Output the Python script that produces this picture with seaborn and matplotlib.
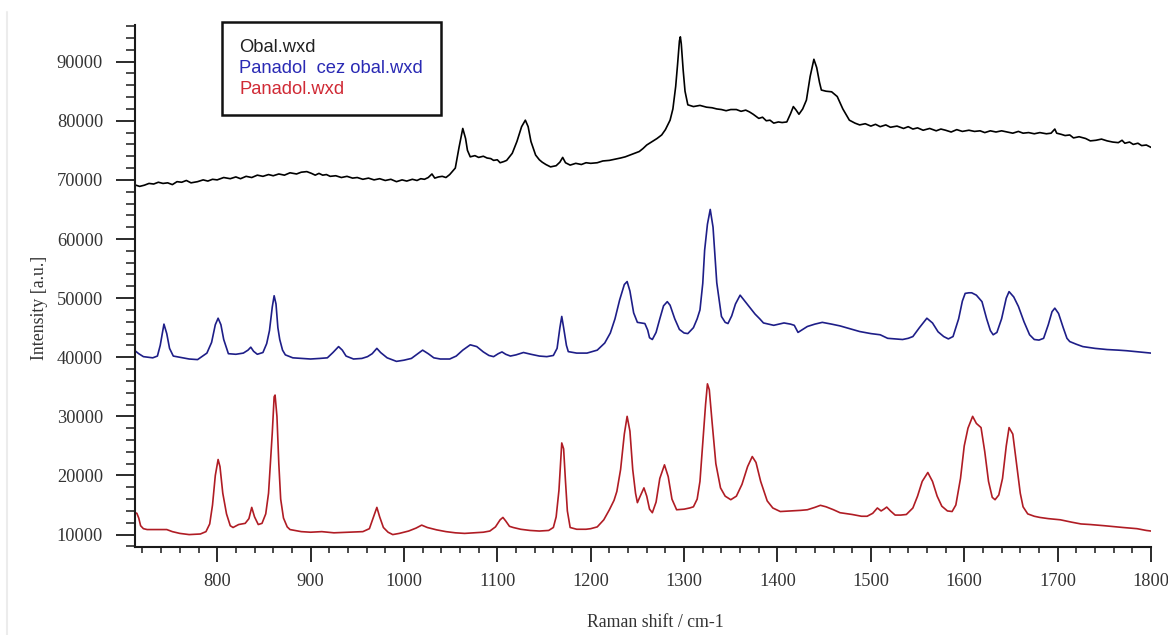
import matplotlib
matplotlib.use("Agg")
import matplotlib.pyplot as plt
import numpy as np
import pandas as pd
import seaborn as sns
from matplotlib.ticker import MultipleLocator
from matplotlib.lines import Line2D

# ---------------- data ----------------
series_names = ["Obal.wxd", "Panadol  cez obal.wxd", "Panadol.wxd"]

obal_shift = [712, 717, 722, 727, 732, 737, 742, 747, 752, 757, 762, 767, 772, 779, 785, 790, 795, 800,
              807, 814, 820, 825, 831, 837, 843, 849, 855, 860, 866, 872, 878, 885, 890, 896,
              901, 905, 909, 913, 917, 921, 927, 933, 939, 945, 950, 956, 962, 968, 974, 980, 986, 992,
              998, 1003, 1009, 1014, 1018, 1022, 1026, 1030, 1033, 1037, 1041, 1045, 1049, 1055,
              1059, 1063, 1066, 1068, 1071, 1076, 1080, 1085, 1089, 1093, 1096, 1100, 1103, 1107, 1110,
              1116, 1121, 1126, 1130, 1133,
              1136, 1141, 1145, 1148, 1152, 1157, 1163, 1167, 1170, 1173, 1178, 1184, 1190, 1195, 1200,
              1207, 1213, 1220, 1226, 1232, 1237, 1242,
              1247, 1252, 1256, 1260, 1266, 1271, 1276, 1280, 1285, 1288, 1291, 1293, 1295, 1296, 1297,
              1299, 1301, 1304, 1310, 1317,
              1324, 1330, 1335, 1340, 1345, 1350, 1356, 1361, 1366, 1370, 1374, 1380, 1384, 1388, 1392,
              1396, 1401, 1405, 1410, 1414, 1417, 1420, 1423,
              1427, 1431, 1435, 1439, 1442, 1445, 1447, 1452, 1458, 1464, 1470, 1477, 1483, 1488, 1494,
              1500, 1505, 1510, 1516, 1521, 1528, 1535, 1540, 1545, 1550, 1556, 1563, 1570, 1575, 1580,
              1586, 1592, 1598, 1605, 1611, 1617, 1622, 1628, 1634, 1640, 1646, 1652, 1658, 1663, 1669,
              1675, 1681, 1688, 1693, 1697, 1699, 1704, 1708, 1713, 1717, 1723, 1730, 1735, 1741, 1747,
              1753, 1759, 1765, 1769, 1772, 1777, 1781, 1786, 1790, 1795, 1800]
obal_intensity = [69150, 68900, 69100, 69400, 69300, 69600, 69400, 69500, 69200, 69700, 69600, 69900,
                  69500, 69700, 70000, 69800, 70100, 70000,
                  70400, 70200, 70500, 70200, 70600, 70400, 70800, 70600, 70900, 70700, 71000, 70800,
                  71200, 71000, 71300, 71400,
                  71100, 70800, 71100, 70800, 70900, 70600, 70700, 70400, 70600, 70300, 70400, 70100,
                  70300, 70000, 70200, 69900, 70100, 69700,
                  70000, 69800, 70100, 69900, 70200, 70100, 70400, 71000, 70300, 70500, 70600, 70400,
                  70900, 72000,
                  75500, 78700, 77000, 75000, 73900, 74100, 73800, 74000, 73700, 73600, 73300, 73400,
                  72900, 73100, 73300,
                  74500, 76500, 79000, 80100, 79000,
                  76500, 74200, 73400, 73000, 72600, 72200, 72400, 73000, 73800, 72900, 72500, 72800,
                  72600, 72900, 72800,
                  72900, 73200, 73300, 73500, 73700, 73900, 74200,
                  74500, 74800, 75300, 75900, 76500, 77000, 77600, 78500, 80100, 82000, 85800, 89500,
                  93500, 94200, 93000,
                  88600, 85000, 82700, 82400, 82600,
                  82300, 82200, 82000, 81900, 81700, 81900, 81900, 81600, 81800, 81500, 81100, 80400,
                  80600, 80000, 80100,
                  79600, 79800, 79700, 79800, 81200, 82400, 81800, 81100,
                  82000, 83500, 87500, 90400, 89000, 86500, 85200, 85000, 84900, 84100, 82000, 80100,
                  79600, 79300, 79500,
                  79100, 79400, 79000, 79300, 78900, 79100, 78700, 79000, 78600, 78800, 78400, 78700,
                  78300, 78600, 78400,
                  78100, 78500, 78200, 78400, 78200, 78300, 78000, 78300, 78100, 78300, 78100, 77900,
                  78200, 77900, 78000,
                  77800, 78000, 77800, 77900, 78600, 77900, 77700, 77500, 77600, 77100, 77300, 77000,
                  76600, 76700, 76900,
                  76600, 76400, 76300, 76700, 76200, 76400, 76000, 76200, 75800, 75900, 75500]

cez_shift = [712, 716, 721, 731, 736, 739, 743, 746, 749, 753, 760, 770, 779, 789, 794, 798, 801, 804,
             807, 812, 820, 828, 833, 836, 839, 843, 849, 853, 856, 859, 861, 863, 865, 867, 870, 873,
             881, 890, 900, 910, 918, 924, 930, 934, 938, 946, 955, 961, 966, 971, 975, 982, 992, 1000,
             1008, 1014, 1020, 1026, 1032, 1039, 1049, 1056, 1063, 1071, 1078, 1085, 1091, 1096, 1101,
             1105, 1109, 1114, 1120, 1128, 1136, 1145, 1153, 1160, 1164, 1167, 1169, 1171, 1174, 1176,
             1185, 1196, 1207, 1215, 1221, 1226, 1231, 1236, 1239, 1242, 1246, 1250, 1258, 1261, 1263,
             1266, 1270, 1274, 1278, 1282, 1285, 1290, 1295, 1300, 1304, 1310, 1314, 1317, 1320, 1322,
             1325, 1328, 1331, 1335, 1340, 1344, 1347, 1351, 1355, 1360, 1365, 1371, 1376, 1381, 1385,
             1396, 1407, 1414, 1418, 1422, 1426, 1432, 1440, 1448, 1458, 1467, 1478, 1488, 1500, 1510,
             1518, 1526, 1534, 1540, 1545, 1552, 1560, 1566, 1572, 1578, 1583, 1588, 1594, 1598, 1601,
             1605, 1608, 1613, 1619, 1624, 1628, 1631, 1635, 1640, 1645, 1648, 1653, 1658, 1664, 1670,
             1675, 1680, 1685, 1690, 1694, 1697, 1701, 1706, 1710, 1713, 1720, 1727, 1740, 1753, 1765,
             1774, 1787, 1800]
cez_intensity = [41100, 40600, 40100, 39900, 40200, 42000, 45600, 44000, 41500, 40200, 40000, 39700,
                 39600, 40700, 42500, 45500, 46600, 45500, 43000, 40600, 40500, 40700, 41200, 41700,
                 41000, 40500, 40800, 42300, 44500, 48500, 50400, 49000, 45000, 43000, 41200, 40400,
                 39900, 39800, 39700, 39800, 39900, 40800, 41800, 41200, 40200, 39700, 39800, 40100,
                 40600, 41500, 40800, 39900, 39300, 39500, 39800, 40500, 41200, 40600, 39900, 39700,
                 39700, 40200, 41200, 42100, 41800, 40900, 40300, 40100, 40600, 40900, 40500, 40200,
                 40400, 40800, 40500, 40200, 40100, 40300, 41500, 45000, 46900, 45000, 42000, 40950,
                 40700, 40700, 41200, 42400, 44100, 46500, 49700, 52300, 52800, 51200, 47500, 45900,
                 45700, 44600, 43300, 43000, 44200, 46500, 48700, 49400, 48800, 46500, 44700, 44100,
                 44000, 45000, 46500, 48000, 52500, 58100, 62500, 65000, 62000, 52600, 46900, 45900,
                 45700, 47000, 49000, 50500, 49500, 48300, 47300, 46500, 45800, 45400, 45800, 45600,
                 45400, 44200, 44600, 45200, 45600, 45900, 45600, 45300, 44800, 44350, 44000, 43800,
                 43200, 43100, 43000, 43200, 43500, 45000, 46600, 45800, 44300, 43500, 43100, 43500,
                 46500, 49500, 50800, 50900, 50900, 50500, 49400, 46500, 44500, 43800, 44200, 46500,
                 50000, 51100, 50200, 48600, 46000, 43800, 43000, 42900, 43200, 45500, 47700, 48300,
                 47400, 45000, 43200, 42650, 42200, 41800, 41500, 41300, 41200, 41100, 40900, 40700]

pan_shift = [712, 714, 716, 718, 721, 725, 735, 746, 752, 760, 770, 782, 788, 792, 795, 798, 801, 803,
             806, 810, 814, 817, 823, 830, 834, 837, 840, 844, 848, 852, 855, 857, 859, 861, 862, 864,
             866, 868, 871, 875, 878, 890, 900, 912, 925, 940, 956, 963, 967, 971, 974, 978, 983, 988,
             995, 1005, 1013, 1019, 1025, 1035, 1045, 1055, 1065, 1075, 1085, 1092, 1098, 1103, 1106,
             1109, 1113, 1117, 1125, 1135, 1145, 1155, 1160, 1163, 1166, 1168, 1169, 1171, 1173, 1175,
             1178, 1185, 1195, 1200, 1207, 1214, 1220, 1225, 1228, 1232, 1236, 1239, 1242, 1245, 1248,
             1250, 1253, 1257, 1260, 1263, 1266, 1270, 1274, 1279, 1283, 1287, 1292, 1300, 1306, 1310,
             1314, 1317, 1320, 1323, 1325, 1327, 1330, 1334, 1339, 1344, 1350, 1356, 1362, 1368, 1373,
             1377, 1382, 1389, 1395, 1403, 1415, 1425, 1432, 1440, 1446, 1452, 1460, 1467, 1480, 1490,
             1496, 1502, 1507, 1511, 1514, 1517, 1521, 1526, 1532, 1538, 1545, 1550, 1555, 1561, 1566,
             1571, 1576, 1582, 1587, 1591, 1596, 1600, 1604, 1609, 1613, 1618, 1622, 1626, 1630, 1633,
             1637, 1641, 1645, 1648, 1652, 1656, 1660, 1663, 1668, 1675, 1681, 1690, 1703, 1715, 1725,
             1735, 1750, 1770, 1785, 1795, 1800]
pan_intensity = [13700, 13600, 12800, 11500, 11000, 10850, 10850, 10850, 10500, 10200, 10000, 10100,
                 10500, 11800, 15000, 20000, 22700, 21500, 17000, 13500, 11500, 11200, 11700, 11900,
                 12700, 14600, 13000, 11700, 11900, 13500, 17000, 22000, 27200, 33300, 33600, 30000,
                 22000, 16000, 12800, 11300, 10850, 10500, 10400, 10500, 10300, 10400, 10500, 11000,
                 12800, 14600, 13000, 11200, 10400, 10000, 10200, 10600, 11100, 11600, 11200, 10800,
                 10500, 10300, 10200, 10300, 10400, 10600, 11300, 12500, 12900, 12300, 11400, 11200,
                 10900, 10700, 10600, 10700, 11200, 13000, 17500, 23000, 25500, 24500, 19000, 14000,
                 11200, 10900, 10900, 11000, 11300, 12500, 14200, 15800, 17300, 21000, 27000, 30000,
                 27500, 21000, 17000, 15400, 16500, 17900, 16500, 14300, 13700, 15500, 19500, 21800,
                 19800, 16000, 14200, 14300, 14500, 14700, 16000, 19000, 25500, 32000, 35500, 34500,
                 29000, 22000, 17900, 16500, 15900, 16500, 18500, 21500, 23200, 22200, 19000, 15700,
                 14500, 13900, 14000, 14100, 14200, 14600, 14950, 14700, 14200, 13700, 13400, 13100,
                 13100, 13600, 14500, 14000, 14300, 14650, 14000, 13300, 13300, 13400, 14500, 16500,
                 19000, 20500, 19000, 16500, 14800, 14000, 13900, 15000, 19500, 25000, 28000, 30000,
                 28800, 28100, 24000, 19000, 16300, 15900, 16700, 19500, 25000, 28100, 27000, 22000,
                 17000, 14700, 13500, 13100, 12900, 12700, 12500, 12100, 11800, 11700, 11500, 11200,
                 11000, 10700, 10600]

x_ticks = [800, 900, 1000, 1100, 1200, 1300, 1400, 1500, 1600, 1700, 1800]
y_ticks = [10000, 20000, 30000, 40000, 50000, 60000, 70000, 80000, 90000]

# ---------------- styling ----------------
line_colors = ["#000000", "#1e1e88", "#b01c24"]
legend_text_colors = ["#222222", "#2a2ab4", "#d02a35"]

sns.set_theme(style="white")
plt.rcParams["font.family"] = ["Liberation Serif", "DejaVu Serif"]

df = pd.concat([
    pd.DataFrame({"shift": obal_shift, "intensity": obal_intensity, "series": series_names[0]}),
    pd.DataFrame({"shift": cez_shift, "intensity": cez_intensity, "series": series_names[1]}),
    pd.DataFrame({"shift": pan_shift, "intensity": pan_intensity, "series": series_names[2]}),
], ignore_index=True)

W, H = 1168, 635
fig = plt.figure(figsize=(W / 100, H / 100), dpi=100)
ax = fig.add_axes([135 / W, 1 - 547 / H, (1151 - 135) / W, (547 - 25) / H])

sns.lineplot(data=df, x="shift", y="intensity", hue="series", hue_order=series_names,
             palette=line_colors, estimator=None, sort=False, linewidth=1.2, legend=False, ax=ax)

ax.set_xlim(712, 1800)
ax.set_ylim(7900, 96200)
ax.set_xticks(x_ticks)
ax.set_yticks(y_ticks)
ax.set_xticklabels([str(v) for v in x_ticks])
ax.set_yticklabels([str(v) for v in y_ticks])
ax.xaxis.set_minor_locator(MultipleLocator(20))
ax.yaxis.set_minor_locator(MultipleLocator(2000))

for side in ["top", "right"]:
    ax.spines[side].set_visible(False)
for side in ["left", "bottom"]:
    ax.spines[side].set_color("#1a1a1a")
    ax.spines[side].set_linewidth(1.5)

tick_font = 13.2
ax.tick_params(axis="y", which="major", direction="out", length=14, width=1.3, color="#1a1a1a",
               pad=9, labelsize=tick_font, labelcolor="#333333", left=True)
ax.tick_params(axis="y", which="minor", direction="out", length=6.5, width=1.1, color="#1a1a1a", left=True)
ax.tick_params(axis="x", which="major", direction="out", length=11, width=1.3, color="#1a1a1a",
               pad=8, labelsize=tick_font, labelcolor="#333333", bottom=True)
ax.tick_params(axis="x", which="minor", direction="out", length=4.5, width=1.1, color="#1a1a1a", bottom=True)

ax.set_xlabel("Raman shift / cm-1", fontsize=12.8, color="#333333")
ax.set_ylabel("Intensity [a.u.]", fontsize=12.8, color="#333333")
ax.xaxis.set_label_coords((655 - 135) / 1016, (547 - 614) / 522)
ax.yaxis.set_label_coords((48 - 135) / 1016, (547 - 308) / 522)
ax.grid(False)

handles = [Line2D([], [], color=c) for c in line_colors]
leg = ax.legend(handles, series_names, loc="upper left",
                bbox_to_anchor=(222 / W, 1 - 22 / H), bbox_transform=fig.transFigure,
                frameon=True, fancybox=False, shadow=False, edgecolor="#111111",
                handlelength=0, handletextpad=0, borderpad=0.95, labelspacing=0.2,
                borderaxespad=0, prop={"family": "Liberation Sans", "size": 13.2})
leg.get_frame().set_linewidth(1.8)
leg.get_frame().set_facecolor("white")
leg.get_frame().set_alpha(1)
for h in leg.legend_handles:
    h.set_visible(False)
for t, c in zip(leg.get_texts(), legend_text_colors):
    t.set_color(c)

# faint screenshot border at the far left
fig.add_artist(Line2D([7 / W, 7 / W], [0.0, 1 - 12 / H], transform=fig.transFigure,
                      color="#ececec", linewidth=1.5))

fig.savefig("out.png", dpi=100, facecolor="white")
